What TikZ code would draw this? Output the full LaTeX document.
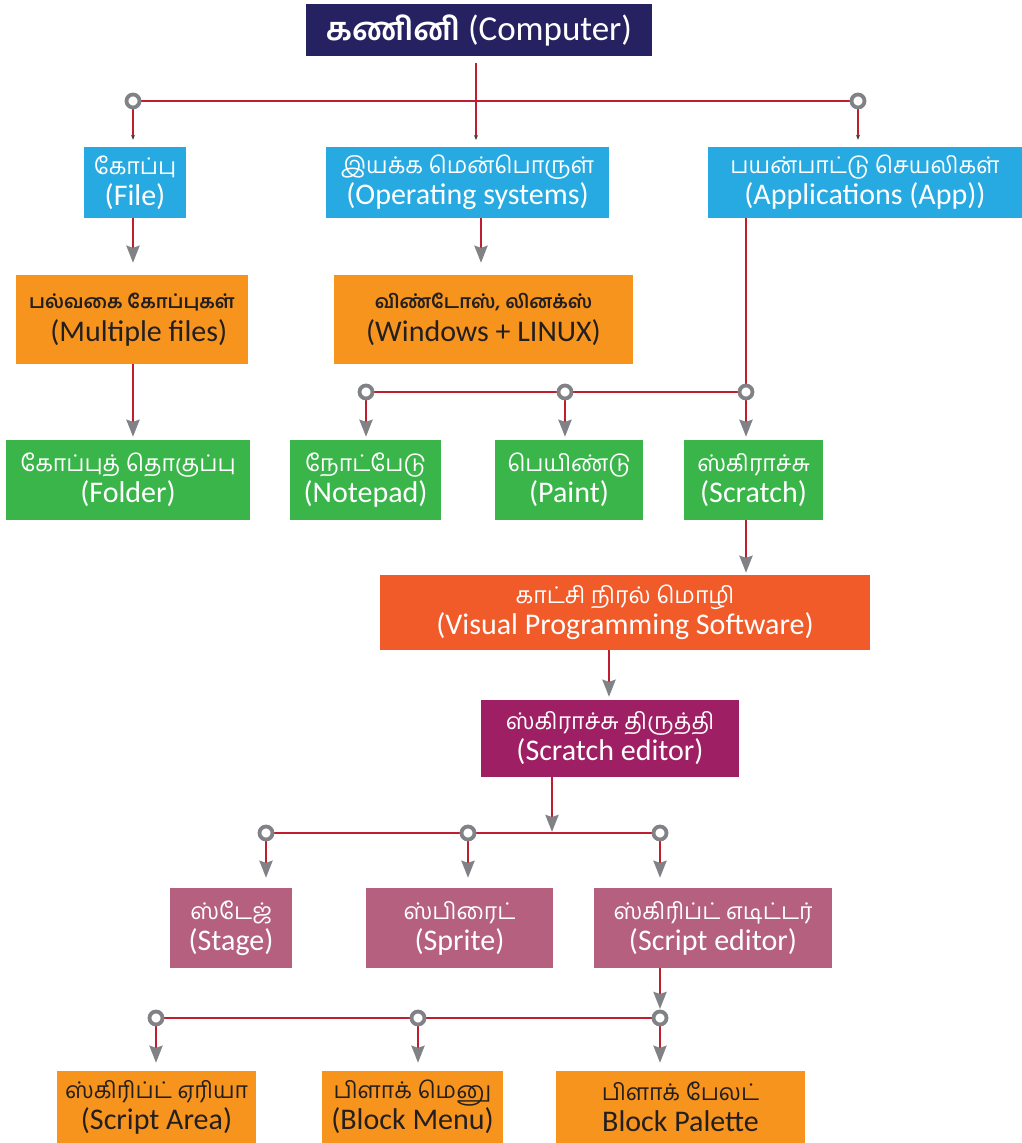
\documentclass[tikz,border=0pt]{standalone}
\usepackage{fontspec}
\setmainfont{Carlito}
\newfontfamily\tam[Script=Tamil]{Hind Madurai}
\usetikzlibrary{arrows.meta}
\definecolor{navy}{HTML}{262262}
\definecolor{bblue}{HTML}{27AAE1}
\definecolor{borange}{HTML}{F7941D}
\definecolor{bgreen}{HTML}{39B54A}
\definecolor{bvis}{HTML}{F15A29}
\definecolor{bedit}{HTML}{9E1F63}
\definecolor{bpink}{HTML}{B5607F}
\definecolor{linered}{HTML}{BE1E2D}
\definecolor{tipgray}{HTML}{808285}
\definecolor{darktext}{HTML}{231F20}
\tikzset{
  bx/.style={rectangle, inner sep=0pt, align=center, text=white,
    font=\fontsize{30}{31}\selectfont},
  lnk/.style={draw=linered, line width=2.8pt},
  arr/.style={lnk, -{Stealth[length=17pt,width=13pt,inset=2pt,color=tipgray]}},
  tinyarr/.style={lnk, -{Stealth[length=5pt,width=4pt,color=black!75]}},
  ring/.style={circle, draw=tipgray, line width=3.8pt, fill=white, minimum size=13pt, inner sep=0pt},
}
\newcommand{\tr}[1]{{\tam\fontsize{23}{31}\selectfont #1}}
\newcommand{\tb}[1]{{\tam\bfseries\fontsize{19}{31}\selectfont #1}}
\begin{document}
\begin{tikzpicture}[x=1pt,y=-1pt]
\useasboundingbox (0,0) rectangle (1022,1143);

% boxes
\node[bx, fill=navy, minimum width=346pt, minimum height=52pt, font=\fontsize{35}{36}\selectfont] (comp) at (479,30)
  {{\tam\bfseries\fontsize{32}{36}\selectfont கணினி} (Computer)};

\node[bx, fill=bblue, minimum width=102pt, minimum height=71pt] (file) at (135,182.5) {\tr{கோப்பு}\\(File)};
\node[bx, fill=bblue, minimum width=283pt, minimum height=71pt] (os) at (467.5,182.5) {\tr{இயக்க மென்பொருள்}\\(Operating systems)};
\node[bx, fill=bblue, minimum width=314pt, minimum height=71pt] (app) at (865,182.5) {\tr{பயன்பாட்டு செயலிகள்}\\(Applications (App))};

\node[bx, fill=borange, text=darktext, minimum width=232pt, minimum height=89pt] (multi) at (132,319.5) {\tb{பல்வகை கோப்புகள்}\\[2pt]\ \ (Multiple files)};
\node[bx, fill=borange, text=darktext, minimum width=299pt, minimum height=89pt] (win) at (483.5,319.5) {\tb{விண்டோஸ், லினக்ஸ்}\\[2pt](Windows + LINUX)};

\node[bx, fill=bgreen, minimum width=244pt, minimum height=80pt] (folder) at (128,480) {\tr{கோப்புத் தொகுப்பு}\\(Folder)};
\node[bx, fill=bgreen, minimum width=151pt, minimum height=80pt] (notepad) at (365.5,480) {\tr{நோட்பேடு}\\(Notepad)};
\node[bx, fill=bgreen, minimum width=148pt, minimum height=80pt] (paint) at (569,480) {\tr{பெயிண்டு}\\(Paint)};
\node[bx, fill=bgreen, minimum width=139pt, minimum height=80pt] (scratch) at (753.5,480) {\tr{ஸ்கிராச்சு}\\(Scratch)};

\node[bx, fill=bvis, minimum width=490pt, minimum height=75pt] (visual) at (625,612.5) {\tr{காட்சி நிரல் மொழி}\\(Visual Programming Software)};
\node[bx, fill=bedit, minimum width=258pt, minimum height=77pt] (editor) at (610,738.5) {\tr{ஸ்கிராச்சு திருத்தி}\\(Scratch editor)};

\node[bx, fill=bpink, minimum width=122pt, minimum height=80pt] (stage) at (231,928) {\tr{ஸ்டேஜ்}\\(Stage)};
\node[bx, fill=bpink, minimum width=187pt, minimum height=80pt] (sprite) at (459.5,928) {\tr{ஸ்பிரைட்}\\(Sprite)};
\node[bx, fill=bpink, minimum width=238pt, minimum height=80pt] (sedit) at (713,928) {\tr{ஸ்கிரிப்ட் எடிட்டர்}\\(Script editor)};

\node[bx, fill=borange, text=darktext, minimum width=199pt, minimum height=72pt] (sarea) at (156.5,1107) {\tr{ஸ்கிரிப்ட் ஏரியா}\\(Script Area)};
\node[bx, fill=borange, text=darktext, minimum width=181pt, minimum height=72pt] (bmenu) at (412.5,1107) {\tr{பிளாக் மெனு}\\(Block Menu)};
\node[bx, fill=borange, text=darktext, minimum width=249pt, minimum height=72pt] (bpal) at (680.5,1107) {\tr{பிளாக் பேலட்}\\Block Palette};

% junction points
\coordinate (j1) at (133,101);
\coordinate (j2) at (858,101);
\coordinate (tos) at (476,140);
\coordinate (j4) at (366,392);
\coordinate (j5) at (565,392);
\coordinate (j6) at (746,392);
\coordinate (j7) at (266,833);
\coordinate (j8) at (468,833);
\coordinate (j9) at (660,833);
\coordinate (j10) at (156,1018);
\coordinate (j11) at (418,1018);
\coordinate (j12) at (660,1018);

% top level
\draw[lnk] (j1) -- (j2);
\draw[tinyarr] ([xshift=-3pt,yshift=-7pt]comp.south) -- (tos);
\draw[tinyarr, shorten >=7pt] (j1) -- (j1 |- file.north);
\draw[tinyarr, shorten >=7pt] (j2) -- (j2 |- app.north);

% row 1 -> row 2
\draw[arr, shorten >=12pt] ([xshift=-2pt]file.south) -- ([xshift=-2pt]file.south |- multi.north);
\draw[arr, shorten >=12pt] ([xshift=13.5pt]os.south) -- ([xshift=13.5pt]os.south |- multi.north);
\draw[arr, shorten >=3pt] ([xshift=1pt]multi.south) -- ([xshift=1pt]multi.south |- folder.north);

% applications
\draw[lnk] (j6 |- app.south) -- (j6);
\draw[lnk] (j4) -- (j6);
\draw[arr, shorten >=3pt] (j4) -- (j4 |- notepad.north);
\draw[arr, shorten >=3pt] (j5) -- (j5 |- paint.north);
\draw[arr, shorten >=3pt] (j6) -- (j6 |- scratch.north);

% scratch chain
\draw[arr, shorten >=2pt] (j6 |- scratch.south) -- (j6 |- visual.north);
\draw[arr, shorten >=3pt] ([xshift=-16pt]visual.south) -- ([xshift=-16pt]visual.south |- editor.north);
\draw[lnk] (j7) -- (j9);
\draw[arr, shorten >=1pt] ([xshift=-58pt]editor.south) -- ([xshift=-58pt]editor.south |- j7);
\draw[arr, shorten >=10pt] (j7) -- (j7 |- stage.north);
\draw[arr, shorten >=10pt] (j8) -- (j8 |- sprite.north);
\draw[arr, shorten >=10pt] (j9) -- (j9 |- sedit.north);

% script editor
\draw[lnk] (j10) -- (j12);
\draw[arr, shorten >=9pt] (j12 |- sedit.south) -- (j12);
\draw[arr, shorten >=8pt] (j10) -- (j10 |- sarea.north);
\draw[arr, shorten >=8pt] (j11) -- (j11 |- bmenu.north);
\draw[arr, shorten >=8pt] (j12) -- (j12 |- bpal.north);

% rings
\foreach \j in {j1,j2,j4,j5,j6,j7,j8,j9,j10,j11,j12}
  \node[ring] (r\j) at (\j) {};
\end{tikzpicture}
\end{document}
